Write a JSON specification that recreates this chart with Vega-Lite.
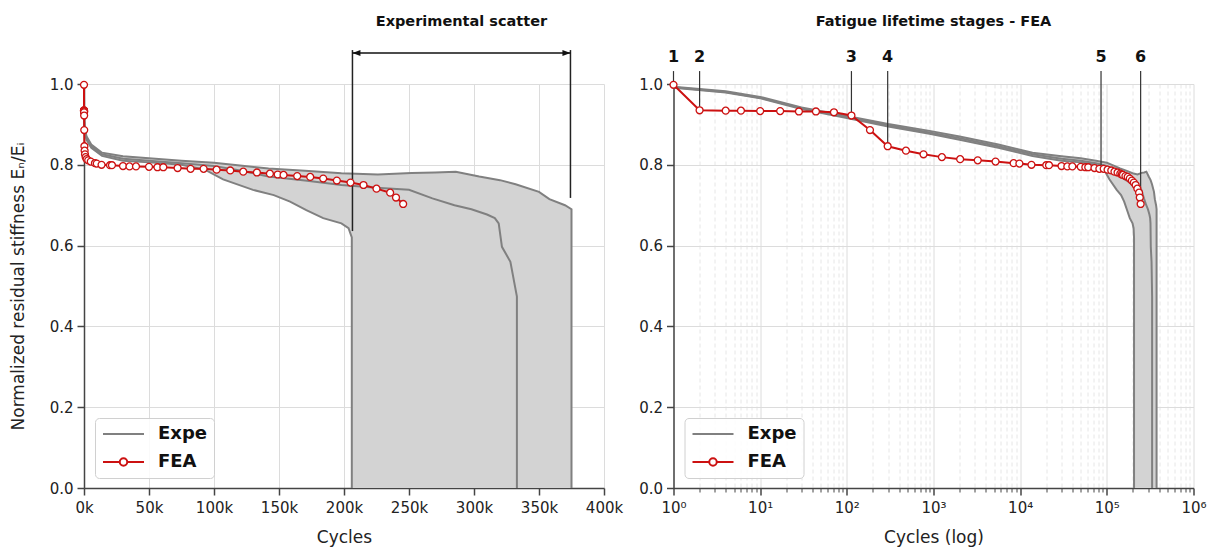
{
  "$schema": "https://vega.github.io/schema/vega-lite/v6.json",
  "background": "white",
  "padding": {"left": 9, "top": 14, "right": 5, "bottom": 3},
  "bounds": "flush",
  "spacing": 69.5,
  "config": {
    "font": "DejaVu Sans",
    "view": {"stroke": null},
    "axis": {
      "labelFont": "DejaVu Sans", "labelFontSize": 15, "labelColor": "#222",
      "titleFont": "DejaVu Sans", "titleFontSize": 17, "titleColor": "#222", "titleFontWeight": "normal",
      "domainColor": "#444", "domainWidth": 1.5, "tickColor": "#444", "tickWidth": 1.5, "tickSize": 7,
      "gridColor": "#dcdcdc", "gridWidth": 1, "labelFlush": false, "labelOverlap": false
    },
    "axisX": {"labelPadding": 5, "titlePadding": 14},
    "axisY": {"labelPadding": 4, "titlePadding": 22}
  },
  "resolve": {"scale": {"color": "independent"}},
  "datasets": {
    "expe": [
      {"specimen": "A", "cycles": 1, "value": 0.993}, {"specimen": "A", "cycles": 4, "value": 0.982}, {"specimen": "A", "cycles": 10, "value": 0.968}, {"specimen": "A", "cycles": 30, "value": 0.942}, {"specimen": "A", "cycles": 100, "value": 0.921}, {"specimen": "A", "cycles": 300, "value": 0.901}, {"specimen": "A", "cycles": 900, "value": 0.884}, {"specimen": "A", "cycles": 2000, "value": 0.870}, {"specimen": "A", "cycles": 5600, "value": 0.850}, {"specimen": "A", "cycles": 13900, "value": 0.830}, {"specimen": "A", "cycles": 30000, "value": 0.821}, {"specimen": "A", "cycles": 50000, "value": 0.816}, {"specimen": "A", "cycles": 75000, "value": 0.810}, {"specimen": "A", "cycles": 100000, "value": 0.805}, {"specimen": "A", "cycles": 120000, "value": 0.798}, {"specimen": "A", "cycles": 142000, "value": 0.791}, {"specimen": "A", "cycles": 170000, "value": 0.785}, {"specimen": "A", "cycles": 198000, "value": 0.779}, {"specimen": "A", "cycles": 226000, "value": 0.776}, {"specimen": "A", "cycles": 252000, "value": 0.780}, {"specimen": "A", "cycles": 270000, "value": 0.781}, {"specimen": "A", "cycles": 286000, "value": 0.783}, {"specimen": "A", "cycles": 304000, "value": 0.771}, {"specimen": "A", "cycles": 320000, "value": 0.762}, {"specimen": "A", "cycles": 332000, "value": 0.752}, {"specimen": "A", "cycles": 350000, "value": 0.733}, {"specimen": "A", "cycles": 358000, "value": 0.715}, {"specimen": "A", "cycles": 370000, "value": 0.700}, {"specimen": "A", "cycles": 375000, "value": 0.690}, {"specimen": "A", "cycles": 375000, "value": 0},
      {"specimen": "B", "cycles": 1, "value": 0.992}, {"specimen": "B", "cycles": 4, "value": 0.980}, {"specimen": "B", "cycles": 10, "value": 0.966}, {"specimen": "B", "cycles": 30, "value": 0.940}, {"specimen": "B", "cycles": 100, "value": 0.918}, {"specimen": "B", "cycles": 300, "value": 0.898}, {"specimen": "B", "cycles": 900, "value": 0.880}, {"specimen": "B", "cycles": 2000, "value": 0.866}, {"specimen": "B", "cycles": 5600, "value": 0.846}, {"specimen": "B", "cycles": 13900, "value": 0.826}, {"specimen": "B", "cycles": 30000, "value": 0.815}, {"specimen": "B", "cycles": 50000, "value": 0.810}, {"specimen": "B", "cycles": 75000, "value": 0.804}, {"specimen": "B", "cycles": 100000, "value": 0.797}, {"specimen": "B", "cycles": 120000, "value": 0.786}, {"specimen": "B", "cycles": 142000, "value": 0.771}, {"specimen": "B", "cycles": 170000, "value": 0.761}, {"specimen": "B", "cycles": 198000, "value": 0.750}, {"specimen": "B", "cycles": 225000, "value": 0.743}, {"specimen": "B", "cycles": 250000, "value": 0.738}, {"specimen": "B", "cycles": 268000, "value": 0.717}, {"specimen": "B", "cycles": 285000, "value": 0.700}, {"specimen": "B", "cycles": 298000, "value": 0.690}, {"specimen": "B", "cycles": 310000, "value": 0.677}, {"specimen": "B", "cycles": 316000, "value": 0.668}, {"specimen": "B", "cycles": 319000, "value": 0.655}, {"specimen": "B", "cycles": 321500, "value": 0.597}, {"specimen": "B", "cycles": 328000, "value": 0.560}, {"specimen": "B", "cycles": 333000, "value": 0.474}, {"specimen": "B", "cycles": 333000, "value": 0},
      {"specimen": "C", "cycles": 1, "value": 0.991}, {"specimen": "C", "cycles": 4, "value": 0.979}, {"specimen": "C", "cycles": 10, "value": 0.965}, {"specimen": "C", "cycles": 30, "value": 0.938}, {"specimen": "C", "cycles": 100, "value": 0.916}, {"specimen": "C", "cycles": 300, "value": 0.895}, {"specimen": "C", "cycles": 900, "value": 0.877}, {"specimen": "C", "cycles": 2000, "value": 0.862}, {"specimen": "C", "cycles": 5600, "value": 0.842}, {"specimen": "C", "cycles": 13900, "value": 0.822}, {"specimen": "C", "cycles": 30000, "value": 0.810}, {"specimen": "C", "cycles": 50000, "value": 0.806}, {"specimen": "C", "cycles": 75000, "value": 0.800}, {"specimen": "C", "cycles": 93000, "value": 0.788}, {"specimen": "C", "cycles": 107000, "value": 0.764}, {"specimen": "C", "cycles": 130000, "value": 0.738}, {"specimen": "C", "cycles": 146000, "value": 0.725}, {"specimen": "C", "cycles": 158500, "value": 0.709}, {"specimen": "C", "cycles": 171000, "value": 0.688}, {"specimen": "C", "cycles": 184000, "value": 0.668}, {"specimen": "C", "cycles": 198000, "value": 0.655}, {"specimen": "C", "cycles": 203500, "value": 0.643}, {"specimen": "C", "cycles": 206000, "value": 0.620}, {"specimen": "C", "cycles": 206000, "value": 0}
    ],
    "band": [
      {"cycles": 1, "value": 0.991, "value2": 0.993}, {"cycles": 4, "value": 0.979, "value2": 0.982}, {"cycles": 10, "value": 0.965, "value2": 0.968}, {"cycles": 30, "value": 0.938, "value2": 0.942}, {"cycles": 100, "value": 0.916, "value2": 0.921}, {"cycles": 300, "value": 0.895, "value2": 0.901}, {"cycles": 900, "value": 0.877, "value2": 0.884}, {"cycles": 2000, "value": 0.862, "value2": 0.870}, {"cycles": 5600, "value": 0.842, "value2": 0.850}, {"cycles": 13900, "value": 0.822, "value2": 0.830}, {"cycles": 30000, "value": 0.810, "value2": 0.821}, {"cycles": 50000, "value": 0.806, "value2": 0.816}, {"cycles": 75000, "value": 0.800, "value2": 0.810}, {"cycles": 93000, "value": 0.788, "value2": 0.806}, {"cycles": 107000, "value": 0.764, "value2": 0.803}, {"cycles": 130000, "value": 0.738, "value2": 0.795}, {"cycles": 146000, "value": 0.725, "value2": 0.790}, {"cycles": 158500, "value": 0.709, "value2": 0.787}, {"cycles": 171000, "value": 0.688, "value2": 0.785}, {"cycles": 184000, "value": 0.668, "value2": 0.782}, {"cycles": 198000, "value": 0.655, "value2": 0.779}, {"cycles": 203500, "value": 0.643, "value2": 0.778}, {"cycles": 206000, "value": 0.620, "value2": 0.777}, {"cycles": 206000, "value": 0, "value2": 0.777}, {"cycles": 226000, "value": 0, "value2": 0.776}, {"cycles": 252000, "value": 0, "value2": 0.780}, {"cycles": 270000, "value": 0, "value2": 0.781}, {"cycles": 286000, "value": 0, "value2": 0.783}, {"cycles": 304000, "value": 0, "value2": 0.771}, {"cycles": 320000, "value": 0, "value2": 0.762}, {"cycles": 332000, "value": 0, "value2": 0.752}, {"cycles": 350000, "value": 0, "value2": 0.733}, {"cycles": 358000, "value": 0, "value2": 0.715}, {"cycles": 370000, "value": 0, "value2": 0.700}, {"cycles": 375000, "value": 0, "value2": 0.690}
    ],
    "fea": [
      {"cycles": 1, "value": 0.998}, {"cycles": 2, "value": 0.935}, {"cycles": 4, "value": 0.934}, {"cycles": 6, "value": 0.934}, {"cycles": 10, "value": 0.933}, {"cycles": 17, "value": 0.933}, {"cycles": 28, "value": 0.932}, {"cycles": 44, "value": 0.932}, {"cycles": 71, "value": 0.930}, {"cycles": 113, "value": 0.922}, {"cycles": 185, "value": 0.886}, {"cycles": 296, "value": 0.846}, {"cycles": 481, "value": 0.835}, {"cycles": 767, "value": 0.826}, {"cycles": 1250, "value": 0.819}, {"cycles": 2030, "value": 0.814}, {"cycles": 3240, "value": 0.811}, {"cycles": 5200, "value": 0.808}, {"cycles": 8400, "value": 0.804}, {"cycles": 9800, "value": 0.803}, {"cycles": 13500, "value": 0.800}, {"cycles": 20000, "value": 0.799}, {"cycles": 21500, "value": 0.799}, {"cycles": 30000, "value": 0.797}, {"cycles": 35000, "value": 0.796}, {"cycles": 40000, "value": 0.796}, {"cycles": 50000, "value": 0.795}, {"cycles": 56500, "value": 0.794}, {"cycles": 61000, "value": 0.794}, {"cycles": 72000, "value": 0.792}, {"cycles": 82000, "value": 0.790}, {"cycles": 92000, "value": 0.790}, {"cycles": 102000, "value": 0.788}, {"cycles": 112500, "value": 0.786}, {"cycles": 122500, "value": 0.783}, {"cycles": 133000, "value": 0.781}, {"cycles": 143000, "value": 0.778}, {"cycles": 149000, "value": 0.776}, {"cycles": 153500, "value": 0.775}, {"cycles": 164000, "value": 0.772}, {"cycles": 174000, "value": 0.770}, {"cycles": 184000, "value": 0.766}, {"cycles": 194500, "value": 0.761}, {"cycles": 205000, "value": 0.756}, {"cycles": 215000, "value": 0.750}, {"cycles": 225000, "value": 0.741}, {"cycles": 235500, "value": 0.731}, {"cycles": 240000, "value": 0.719}, {"cycles": 245500, "value": 0.703}
    ],
    "scatter_ends": [
      {"cycles": 206500, "value": 0.636}, {"cycles": 374200, "value": 0.718}
    ],
    "scatter_arrow": [
      {"cycles": 206500, "cycles2": 374200}
    ],
    "left_title": [
      {"cycles": 290350, "text": "Experimental scatter"}
    ],
    "stages": [
      {"label": "1", "cycles": 1, "value": 0.998}, {"label": "2", "cycles": 2, "value": 0.935}, {"label": "3", "cycles": 113, "value": 0.922}, {"label": "4", "cycles": 296, "value": 0.846}, {"label": "5", "cycles": 85700, "value": 0.797}, {"label": "6", "cycles": 245500, "value": 0.703}
    ],
    "right_title": [
      {"cycles": 1000, "text": "Fatigue lifetime stages - FEA"}
    ]
  },
  "hconcat": [
    {
      "width": 520,
      "height": 404,
      "encoding": {
        "x": {"field": "cycles", "type": "quantitative",
          "scale": {"domain": [0, 400000], "nice": false, "zero": false},
          "axis": {"values": [0, 50000, 100000, 150000, 200000, 250000, 300000, 350000, 400000], "labelExpr": "datum.value / 1000 + 'k'", "title": "Cycles"}}
      },
      "layer": [
        {"data": {"name": "band"}, "mark": {"type": "area", "color": "#d3d3d3", "opacity": 1},
          "encoding": {"y": {"field": "value", "type": "quantitative", "scale": {"domain": [0, 1], "nice": false, "zero": false}, "axis": {"values": [0, 0.2, 0.4, 0.6, 0.8, 1.0], "format": ".1f"}, "title": "Normalized residual stiffness Eₙ/Eᵢ"}, "y2": {"field": "value2"}}},
        {"data": {"name": "expe"}, "mark": {"type": "line", "strokeWidth": 2},
          "encoding": {"y": {"field": "value", "type": "quantitative", "title": "Normalized residual stiffness Eₙ/Eᵢ"}, "detail": {"field": "specimen"}, "color": {"datum": "Expe", "type": "nominal", "scale": {"domain": ["Expe", "FEA"], "range": ["#808080", "#cc1111"]},
          "legend": {"title": null, "orient": "bottom-left", "offset": 10.5, "padding": 7, "rowPadding": 10, "labelFont": "DejaVu Sans", "labelFontSize": 18, "labelFontWeight": "bold", "labelColor": "#111", "labelOffset": 38, "labelExpr": "datum.label + ' '", "symbolSize": 100, "symbolStrokeWidth": 2, "fillColor": "rgba(255,255,255,0.85)", "strokeColor": "#d0d0d0", "cornerRadius": 4,
            "encode": {"symbols": {"update": {"shape": {"signal": "datum.value === 'FEA' ? 'M-1.6,0L1.75,0M3.25,0L6.6,0M3.25,0C3.25,0.414 2.914,0.75 2.5,0.75C2.086,0.75 1.75,0.414 1.75,0C1.75,-0.414 2.086,-0.75 2.5,-0.75C2.914,-0.75 3.25,-0.414 3.25,0Z' : 'M-1.6,0L6.6,0'"}, "fill": {"value": "white"}, "strokeWidth": {"value": 2}}}}}}}},
        {"data": {"name": "scatter_ends"}, "mark": {"type": "rule", "color": "#222", "strokeWidth": 1.5},
          "encoding": {"y": {"field": "value", "type": "quantitative", "title": "Normalized residual stiffness Eₙ/Eᵢ"}, "y2": {"datum": 1.084}}},
        {"data": {"name": "scatter_arrow"}, "mark": {"type": "rule", "color": "#111", "strokeWidth": 1.5},
          "encoding": {"x2": {"field": "cycles2"}, "y": {"datum": 1.0767}}},
        {"data": {"name": "scatter_arrow"}, "mark": {"type": "point", "shape": "M0,0L2,-0.75L2,0.75Z", "size": 64, "filled": true, "color": "#111", "opacity": 1},
          "encoding": {"y": {"datum": 1.0767}}},
        {"data": {"name": "scatter_arrow"}, "mark": {"type": "point", "shape": "M0,0L-2,-0.75L-2,0.75Z", "size": 64, "filled": true, "color": "#111", "opacity": 1},
          "encoding": {"x": {"field": "cycles2", "type": "quantitative"}, "y": {"datum": 1.0767}}},
        {"data": {"name": "fea"}, "mark": {"type": "line", "strokeWidth": 2},
          "encoding": {"y": {"field": "value", "type": "quantitative", "title": "Normalized residual stiffness Eₙ/Eᵢ"}, "color": {"datum": "FEA", "type": "nominal"}}},
        {"data": {"name": "fea"}, "mark": {"type": "point", "shape": "circle", "filled": true, "fill": "white", "stroke": "#cc1111", "strokeWidth": 1.3, "size": 48, "opacity": 1},
          "encoding": {"y": {"field": "value", "type": "quantitative", "title": "Normalized residual stiffness Eₙ/Eᵢ"}}},
        {"data": {"name": "left_title"}, "mark": {"type": "text", "font": "DejaVu Sans", "fontWeight": "bold", "fontSize": 14.5, "color": "#111", "baseline": "middle"},
          "encoding": {"y": {"datum": 1.153}, "text": {"field": "text"}}}
      ]
    },
    {
      "width": 520,
      "height": 404,
      "encoding": {
        "x": {"field": "cycles", "type": "quantitative",
          "scale": {"type": "log", "domain": [1, 1000000], "nice": false},
          "axis": {"values": [1,2,3,4,5,6,7,8,9,10,20,30,40,50,60,70,80,90,100,200,300,400,500,600,700,800,900,1000,2000,3000,4000,5000,6000,7000,8000,9000,10000,20000,30000,40000,50000,60000,70000,80000,90000,100000,200000,300000,400000,500000,600000,700000,800000,900000,1000000],
            "labelExpr": "indexof([1,10,100,1000,10000,100000,1000000], datum.value) >= 0 ? '10' + ['⁰','¹','²','³','⁴','⁵','⁶'][indexof([1,10,100,1000,10000,100000,1000000], datum.value)] : ''",
            "gridDash": {"condition": {"test": "indexof([1,10,100,1000,10000,100000,1000000], datum.value) < 0", "value": [4, 3]}, "value": []},
            "gridColor": {"condition": {"test": "indexof([1,10,100,1000,10000,100000,1000000], datum.value) < 0", "value": "#e6e6e6"}, "value": "#dcdcdc"},
            "tickSize": {"condition": {"test": "indexof([1,10,100,1000,10000,100000,1000000], datum.value) < 0", "value": 4}, "value": 7},
            "tickWidth": {"condition": {"test": "indexof([1,10,100,1000,10000,100000,1000000], datum.value) < 0", "value": 1}, "value": 1.5},
            "title": "Cycles (log)"}}
      },
      "layer": [
        {"data": {"name": "band"}, "mark": {"type": "area", "color": "#d3d3d3", "opacity": 1},
          "encoding": {"y": {"field": "value", "type": "quantitative", "scale": {"domain": [0, 1], "nice": false, "zero": false}, "axis": {"values": [0, 0.2, 0.4, 0.6, 0.8, 1.0], "format": ".1f"}, "title": null}, "y2": {"field": "value2"}}},
        {"data": {"name": "expe"}, "mark": {"type": "line", "strokeWidth": 2},
          "encoding": {"y": {"field": "value", "type": "quantitative", "title": null}, "detail": {"field": "specimen"}, "color": {"datum": "Expe", "type": "nominal", "scale": {"domain": ["Expe", "FEA"], "range": ["#808080", "#cc1111"]},
          "legend": {"title": null, "orient": "bottom-left", "offset": 10.5, "padding": 7, "rowPadding": 10, "labelFont": "DejaVu Sans", "labelFontSize": 18, "labelFontWeight": "bold", "labelColor": "#111", "labelOffset": 38, "labelExpr": "datum.label + ' '", "symbolSize": 100, "symbolStrokeWidth": 2, "fillColor": "rgba(255,255,255,0.85)", "strokeColor": "#d0d0d0", "cornerRadius": 4,
            "encode": {"symbols": {"update": {"shape": {"signal": "datum.value === 'FEA' ? 'M-1.6,0L1.75,0M3.25,0L6.6,0M3.25,0C3.25,0.414 2.914,0.75 2.5,0.75C2.086,0.75 1.75,0.414 1.75,0C1.75,-0.414 2.086,-0.75 2.5,-0.75C2.914,-0.75 3.25,-0.414 3.25,0Z' : 'M-1.6,0L6.6,0'"}, "fill": {"value": "white"}, "strokeWidth": {"value": 2}}}}}}}},
        {"data": {"name": "stages"}, "mark": {"type": "rule", "color": "#333", "strokeWidth": 1.2},
          "encoding": {"y": {"field": "value", "type": "quantitative", "title": null}, "y2": {"datum": 1.032}}},
        {"data": {"name": "fea"}, "mark": {"type": "line", "strokeWidth": 2},
          "encoding": {"y": {"field": "value", "type": "quantitative", "title": null}, "color": {"datum": "FEA", "type": "nominal"}}},
        {"data": {"name": "fea"}, "mark": {"type": "point", "shape": "circle", "filled": true, "fill": "white", "stroke": "#cc1111", "strokeWidth": 1.3, "size": 48, "opacity": 1},
          "encoding": {"y": {"field": "value", "type": "quantitative", "title": null}}},
        {"data": {"name": "stages"}, "mark": {"type": "text", "font": "DejaVu Sans", "fontWeight": "bold", "fontSize": 16, "color": "#111", "baseline": "middle"},
          "encoding": {"y": {"datum": 1.0676}, "text": {"field": "label"}}},
        {"data": {"name": "right_title"}, "mark": {"type": "text", "font": "DejaVu Sans", "fontWeight": "bold", "fontSize": 14.5, "color": "#111", "baseline": "middle"},
          "encoding": {"y": {"datum": 1.153}, "text": {"field": "text"}}}
      ]
    }
  ]
}
